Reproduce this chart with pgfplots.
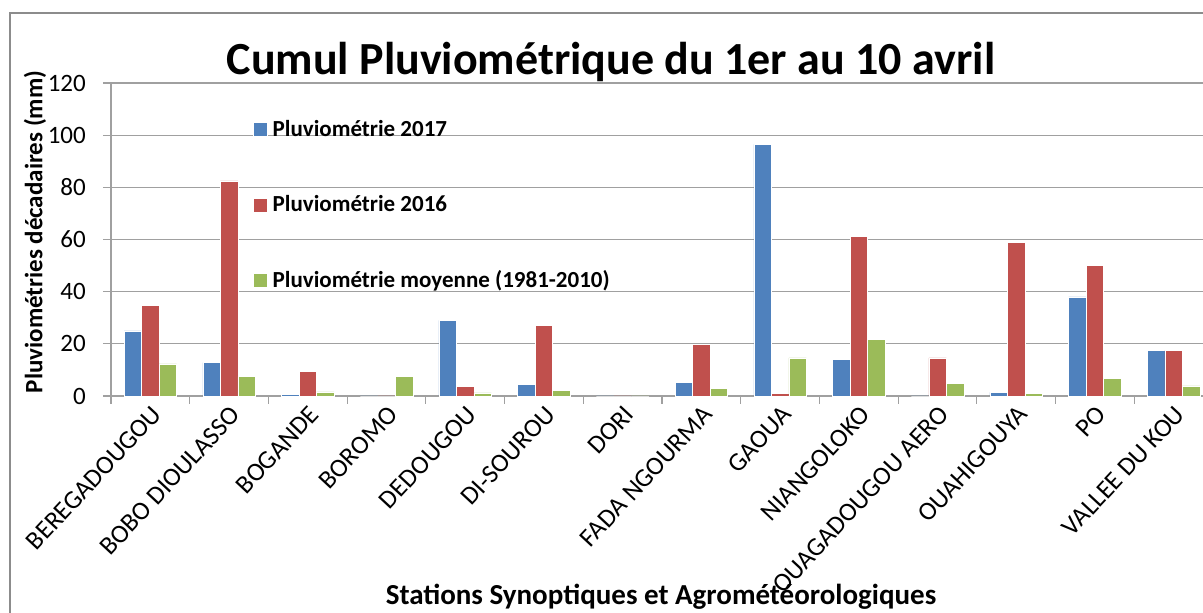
\documentclass[border=0pt]{standalone}
\usepackage{fontspec}
\setmainfont{Carlito}
\usepackage{pgfplots}
\pgfplotsset{compat=1.18}
\definecolor{cA}{HTML}{4F81BD}
\definecolor{cB}{HTML}{C0504D}
\definecolor{cC}{HTML}{9BBB59}
\definecolor{gridc}{HTML}{A0A0A0}
\definecolor{framec}{HTML}{8C8C8C}

\pgfplotstableread{
idx s17 s16 moy
0 25.0 34.8 12.3
1 12.8 82.5 7.5
2 0.7 9.4 1.6
3 0 0 7.5
4 29.0 3.6 1.2
5 4.5 27.0 2.1
6 0 0 0
7 5.3 19.7 2.9
8 96.5 0.9 14.6
9 14.1 61.2 21.8
10 0 14.6 4.9
11 1.4 58.8 0.9
12 38.0 50.0 6.8
13 17.5 17.5 3.9
}\datatable

\begin{document}
\begin{tikzpicture}[x=1pt,y=1pt]
\path[use as bounding box] (0,0) rectangle (1203,613);
\begin{scope}
\clip (0,0) rectangle (1203,613);
\draw[framec, line width=2pt] (10,-20) rectangle (1240,600);
\begin{axis}[
  at={(111pt,217pt)}, anchor=south west,
  scale only axis, width=1102pt, height=313pt,
  xmin=-0.5, xmax=13.5, ymin=0, ymax=120,
  ybar=0pt, bar width=17.5pt,
  axis x line*=bottom, axis y line*=left,
  axis line style={gridc, line width=1.2pt},
  ytick={0,20,...,120},
  ymajorgrids, grid style={gridc, line width=1.2pt},
  xtick={-0.5,0.5,...,13.5},
  x tick label as interval,
  xticklabels={BEREGADOUGOU, BOBO DIOULASSO, BOGANDE, BOROMO, DEDOUGOU, DI-SOUROU, DORI, FADA NGOURMA, GAOUA, NIANGOLOKO, OUAGADOUGOU AERO, OUAHIGOUYA, PO, VALLEE DU KOU},
  tick style={gridc, line width=1.2pt},
  tick align=outside, major tick length=8pt,
  /pgf/number format/assume math mode=true,
  xticklabel style={font=\fontsize{26}{30}\selectfont, text=black, rotate=47, anchor=east, inner sep=2pt, yshift=-9pt, xshift=2pt},
  yticklabel style={font=\fontsize{25}{29}\selectfont, text=black, inner sep=2pt, xshift=-15pt},
  legend style={draw=none, fill=none, at={(rel axis cs:0.1289,0.885)}, anchor=north west,
    inner sep=0pt, row sep=53.5pt, column sep=5pt,
    font=\bfseries\fontsize{23}{27}\selectfont,
    nodes={inner sep=0pt, text height=17pt, text depth=5pt, anchor=west}},
  legend cell align=left,
  legend image code/.code={\fill[#1] (0pt,-6.5pt) rectangle (14pt,7.5pt);},
  clip=false,
]
\addplot[fill=cA, draw=white, line width=0.4pt] table[x=idx, y=s17] {\datatable};
\addplot[fill=cB, draw=white, line width=0.4pt] table[x=idx, y=s16] {\datatable};
\addplot[fill=cC, draw=white, line width=0.4pt] table[x=idx, y=moy] {\datatable};
\legend{Pluviométrie 2017, Pluviométrie 2016, Pluviométrie moyenne (1981-2010)}
\end{axis}
\node[font=\bfseries\fontsize{46}{50}\selectfont] at (611,551) {Cumul Pluviométrique du 1er au 10 avril};
\node[font=\bfseries\fontsize{29}{33}\selectfont] at (661,16) {Stations Synoptiques et Agrométéorologiques};
\node[font=\bfseries\fontsize{25}{29}\selectfont, rotate=90] at (35,381) {Pluviométries décadaires (mm)};
\end{scope}
\end{tikzpicture}
\end{document}
